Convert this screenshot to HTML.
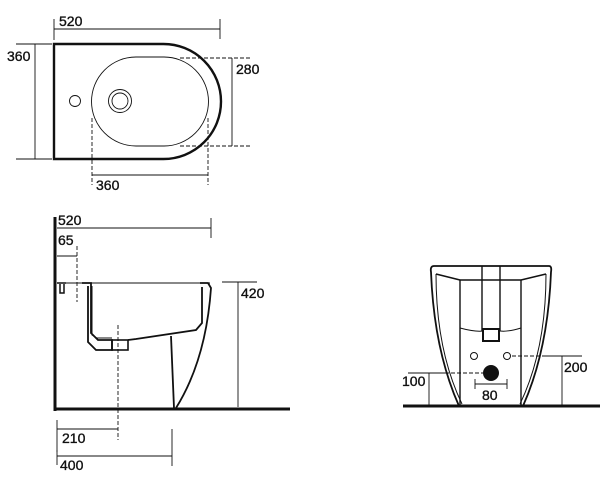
<!DOCTYPE html>
<html><head><meta charset="utf-8"><style>
html,body{margin:0;padding:0;background:#fff;width:600px;height:477px;overflow:hidden}
svg text{font-family:"Liberation Sans",sans-serif;font-size:14px;fill:#111;stroke:#111;stroke-width:0.35;}
</style></head><body>
<svg width="600" height="477" viewBox="0 0 600 477" xmlns="http://www.w3.org/2000/svg">
<g fill="none" stroke="#111">
<!-- TOP VIEW -->
<path d="M54,44 H163.5 A57.5,57.5 0 0 1 163.5,159 H54 Z" stroke-width="2.4"/>
<path d="M136,57 H164 A44.5,44.5 0 0 1 164,146 H136 A44.5,44.5 0 0 1 136,57 Z" stroke-width="0.9"/>
<circle cx="75" cy="101" r="5.5" stroke-width="0.9"/>
<circle cx="120" cy="101" r="11.5" stroke-width="0.9"/>
<circle cx="120" cy="101" r="8" stroke-width="0.9"/>
<line x1="54" y1="29" x2="220" y2="29" stroke-width="0.9"/>
<line x1="54" y1="19" x2="54" y2="40" stroke-width="0.9"/>
<line x1="220" y1="19" x2="220" y2="39" stroke-width="0.9"/>
<line x1="35" y1="44" x2="35" y2="159" stroke-width="0.9"/>
<line x1="16" y1="44" x2="52" y2="44" stroke-width="0.9"/>
<line x1="16" y1="159" x2="52" y2="159" stroke-width="0.9"/>
<line x1="232" y1="58" x2="232" y2="146" stroke-width="0.9"/>
<line x1="180" y1="58" x2="252" y2="58" stroke-width="0.9" stroke-dasharray="4,2"/>
<line x1="180" y1="146" x2="252" y2="146" stroke-width="0.9" stroke-dasharray="4,2"/>
<line x1="92" y1="175" x2="208" y2="175" stroke-width="0.9"/>
<line x1="92" y1="118" x2="92" y2="185" stroke-width="0.9" stroke-dasharray="4,2"/>
<line x1="208" y1="118" x2="208" y2="185" stroke-width="0.9" stroke-dasharray="4,2"/>

<!-- SIDE VIEW -->
<line x1="55" y1="217" x2="55" y2="411" stroke-width="3"/>
<line x1="54" y1="409" x2="290" y2="409" stroke-width="3"/>
<line x1="57" y1="228" x2="211" y2="228" stroke-width="0.9"/>
<line x1="211" y1="218" x2="211" y2="238" stroke-width="0.9"/>
<line x1="57" y1="256" x2="77" y2="256" stroke-width="0.9"/>
<line x1="77" y1="246" x2="77" y2="302" stroke-width="0.9" stroke-dasharray="4,2"/>
<line x1="57" y1="283" x2="210" y2="283" stroke-width="1"/>
<path d="M57,283 H66 M60,284 V293 H64 V284" stroke-width="1.5"/>
<path d="M82,283 H91 V333 L98,340 H112 V350 H96 L88,342 V286" stroke-width="1.8"/>
<path d="M92,286 V335 L97,338 H112" stroke-width="1"/>
<rect x="112" y="340" width="16" height="10" stroke-width="1.6"/>
<path d="M128,340 L136,339 L196,330 L202,323 V287" stroke-width="1.8"/>
<path d="M200,283 H208 L211,288 Q206,360 176,408" stroke-width="1.8"/>
<line x1="171" y1="336" x2="174" y2="408" stroke-width="1.8"/>
<line x1="118" y1="325" x2="118" y2="440" stroke-width="0.9" stroke-dasharray="4,2"/>
<line x1="238" y1="282" x2="238" y2="407" stroke-width="0.9"/>
<line x1="222" y1="282" x2="257" y2="282" stroke-width="0.9"/>
<line x1="57" y1="429" x2="118" y2="429" stroke-width="0.9"/>
<line x1="57" y1="420" x2="57" y2="452" stroke-width="0.9"/>
<line x1="57" y1="456" x2="172" y2="456" stroke-width="0.9"/>
<line x1="57" y1="450" x2="57" y2="465" stroke-width="0.9"/>
<line x1="172" y1="429" x2="172" y2="466" stroke-width="0.9"/>

<!-- FRONT VIEW -->
<line x1="403" y1="406" x2="600" y2="406" stroke-width="3"/>
<path d="M434,266 H549 Q552,266 551,272 Q548,350 523,406" stroke-width="1.8"/>
<path d="M434,266 Q430,266 431,272 Q434,350 459,406" stroke-width="1.8"/>
<path d="M436,274 L460,280 M546,274 L521,280" stroke-width="1.6"/>
<path d="M436,274 Q436,350 462,404 M546,274 Q546,350 520,404" stroke-width="1"/>
<path d="M460,280 H521 M460,280 V406 M521,280 V406" stroke-width="1.4"/>
<path d="M460,328 Q475,332 483,331 M500,331 Q508,332 521,328" stroke-width="1"/>
<path d="M482,266 V331 M500,266 V331" stroke-width="1.4"/>
<rect x="483" y="329" width="16" height="12" stroke-width="2"/>
<circle cx="474" cy="356" r="3.5" stroke-width="1"/>
<circle cx="507" cy="356" r="3.5" stroke-width="1"/>
<circle cx="491" cy="373" r="8" fill="#111" stroke="none"/>
<line x1="475" y1="384" x2="507" y2="384" stroke-width="0.9"/>
<line x1="475" y1="379" x2="475" y2="389" stroke-width="0.9"/>
<line x1="507" y1="379" x2="507" y2="389" stroke-width="0.9"/>
<line x1="429" y1="373" x2="429" y2="406" stroke-width="0.9"/>
<line x1="408" y1="373" x2="445" y2="373" stroke-width="0.9"/>
<line x1="445" y1="373" x2="483" y2="373" stroke-width="0.9" stroke-dasharray="4,2"/>
<line x1="562" y1="356" x2="562" y2="406" stroke-width="0.9"/>
<line x1="512" y1="356" x2="545" y2="356" stroke-width="0.9" stroke-dasharray="4,2"/>
<line x1="545" y1="356" x2="582" y2="356" stroke-width="0.9"/>
</g>
<text x="59" y="26">520</text>
<text x="7" y="61">360</text>
<text x="236" y="74">280</text>
<text x="96" y="190">360</text>
<text x="58" y="225">520</text>
<text x="58" y="245">65</text>
<text x="241" y="298">420</text>
<text x="62" y="443">210</text>
<text x="60" y="470">400</text>
<text x="402" y="386">100</text>
<text x="482" y="400">80</text>
<text x="564" y="372">200</text>
</svg>
</body></html>
